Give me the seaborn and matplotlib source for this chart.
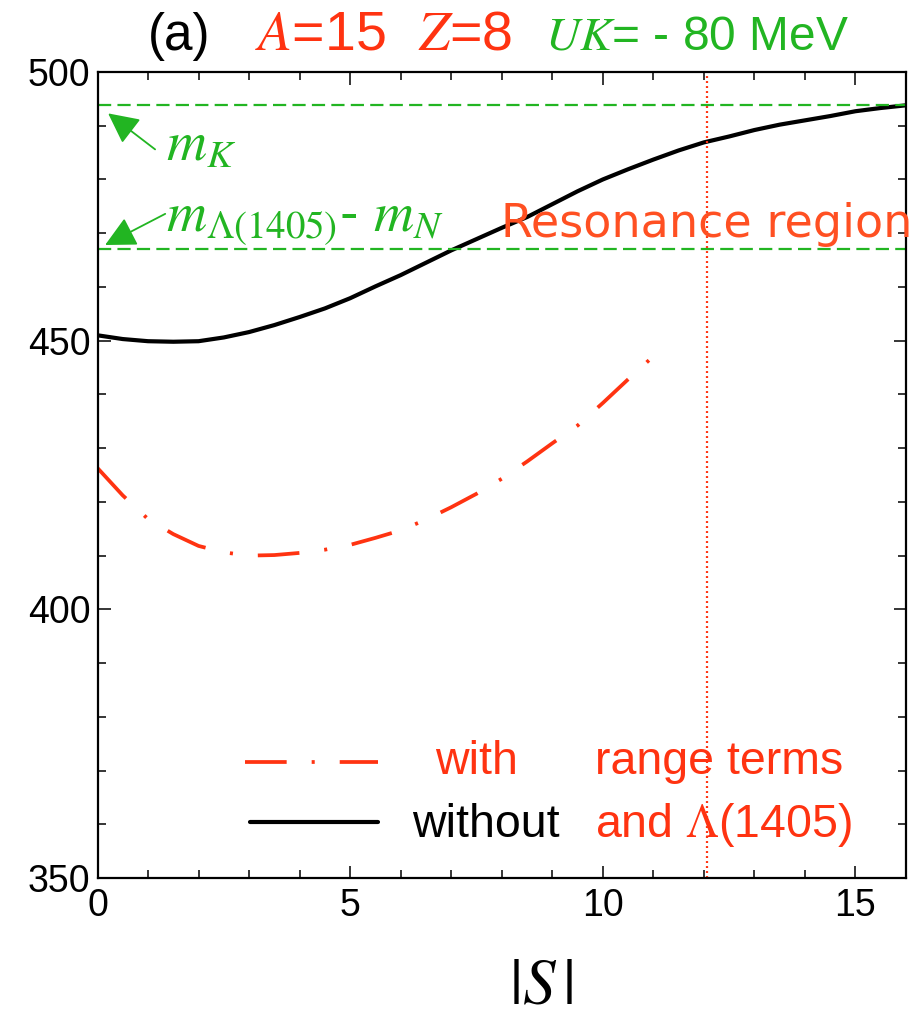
import matplotlib
matplotlib.use("Agg")
import matplotlib.pyplot as plt
import numpy as np
import pandas as pd
import seaborn as sns
from matplotlib.ticker import MultipleLocator

# |S| grid and energies (MeV) for the two calculations
s_with = [0.0, 0.5, 1.0, 1.5, 2.0, 2.5, 3.0, 3.5, 4.0, 4.5, 5.0, 5.5,
          6.0, 6.5, 7.0, 7.5, 8.0, 8.5, 9.0, 9.5, 10.0, 10.5, 11.0]
e_with = [426.3, 421.2, 416.8, 414.0, 411.8, 410.6, 410.0, 410.1, 410.5,
          411.1, 412.0, 413.3, 414.7, 416.7, 419.0, 421.5, 424.3, 427.5,
          430.9, 434.2, 438.4, 442.8, 447.1]

s_without = [0.0, 0.5, 1.0, 1.5, 2.0, 2.5, 3.0, 3.5, 4.0, 4.5, 5.0, 5.5,
             6.0, 6.5, 7.0, 7.5, 8.0, 8.5, 9.0, 9.5, 10.0, 10.5, 11.0,
             11.5, 12.0, 12.5, 13.0, 13.5, 14.0, 14.5, 15.0, 15.5, 16.0]
e_without = [451.0, 450.3, 449.9, 449.8, 449.9, 450.6, 451.6, 452.9, 454.4,
             456.0, 457.9, 460.1, 462.2, 464.5, 466.8, 468.9, 471.0, 473.0,
             475.4, 477.8, 480.0, 481.9, 483.7, 485.4, 486.9, 488.0, 489.2,
             490.2, 491.0, 491.8, 492.7, 493.3, 493.8]

# reference energies and the edge of the resonance region
m_kaon = 493.8
m_lambda1405_minus_n = 467.0
s_resonance_edge = 12.07

x_ticks = [0, 5, 10, 15]
y_ticks = [350, 400, 450, 500]

RED = "#ff3311"
ORANGE = "#ff5022"
GREEN = "#22b522"

sns.set_theme(style="ticks")
plt.rcParams["font.family"] = ["Liberation Sans", "DejaVu Sans"]
plt.rcParams["mathtext.fontset"] = "stix"
plt.rcParams["lines.scale_dashes"] = False
for key in ("text.color", "axes.labelcolor", "xtick.color", "ytick.color",
            "axes.edgecolor", "xtick.labelcolor", "ytick.labelcolor"):
    plt.rcParams[key] = "black"

fig = plt.figure(figsize=(9.21, 10.14), dpi=100)
ax = fig.add_axes([97.5 / 921, 1 - 878 / 1014, 808.5 / 921, 806 / 1014])

df_with = pd.DataFrame({"S": s_with, "E": e_with})
df_without = pd.DataFrame({"S": s_without, "E": e_without})

sns.lineplot(data=df_without, x="S", y="E", ax=ax, color="black", lw=3.0)
sns.lineplot(data=df_with, x="S", y="E", ax=ax, color=RED, lw=2.7)
ax.lines[-1].set_dashes([30, 18, 2.2, 18])

# threshold lines
for level in (m_kaon, m_lambda1405_minus_n):
    ax.axhline(level, color=GREEN, lw=1.6, dashes=[9.5, 4.5])
ax.axvline(s_resonance_edge, color=RED, lw=1.6, dashes=[1.4, 2.2])

ax.set_xlim(0, 16)
ax.set_ylim(350, 500)
ax.set_xticks(x_ticks)
ax.set_yticks(y_ticks)
ax.xaxis.set_minor_locator(MultipleLocator(1))
ax.yaxis.set_minor_locator(MultipleLocator(10))
ax.tick_params(which="both", direction="in", top=True, right=True,
               color="black", width=1.1)
ax.tick_params(which="major", length=9, labelsize=27, labelcolor="black")
ax.tick_params(which="minor", length=5.5)
ax.tick_params(axis="x", which="major", pad=7)
ax.tick_params(axis="y", which="major", pad=5)
for sp in ax.spines.values():
    sp.set_linewidth(1.6)
    sp.set_color("black")
ax.set_xlabel("")
ax.set_ylabel("")

# annotations for the thresholds
arrow_style = dict(arrowstyle="-|>,head_length=0.9,head_width=0.45",
                   color=GREEN, lw=1.3, mutation_scale=21,
                   shrinkA=0, shrinkB=0)
ax.annotate("", xy=(0.21, 492.3), xytext=(1.14, 485.6), arrowprops=arrow_style)
ax.annotate("", xy=(0.15, 467.8), xytext=(1.34, 473.6), arrowprops=arrow_style)
ax.text(1.36, 483.6, r"$m_K$", color=GREEN, fontsize=40, ha="left",
        va="baseline")
ax.text(1.36, 470.3, r"$m_{\Lambda(1405)}$- $m_N$", color=GREEN, fontsize=40,
        ha="left", va="baseline")

ax.text(7.98, 469.35, "Resonance region", color=ORANGE, fontsize=33.2,
        family="DejaVu Sans", ha="left", va="baseline")

# key
ax.plot([0.1824, 0.3472], [0.1439, 0.1439], transform=ax.transAxes,
        color=RED, lw=2.7, dashes=[30, 18, 2.2, 18])
ax.plot([0.1886, 0.3472], [0.0695, 0.0695], transform=ax.transAxes,
        color="black", lw=3.0)
ax.text(0.4174, 0.1439, "with", transform=ax.transAxes, color=RED,
        fontsize=33.5, ha="left", va="center")
ax.text(0.3891, 0.0660, "without", transform=ax.transAxes, color="black",
        fontsize=33.5, ha="left", va="center")
ax.text(0.6153, 0.1439, "range terms", transform=ax.transAxes, color=RED,
        fontsize=33.5, ha="left", va="center")
ax.text(0.6153, 0.0660, r"and $\Lambda$(1405)", transform=ax.transAxes,
        color=RED, fontsize=33.5, ha="left", va="center")

# panel header
fig.text(148 / 921, 1 - 50 / 1014, "(a)", color="black", fontsize=37,
         ha="left", va="baseline")
fig.text(255 / 921, 1 - 50 / 1014, r"$A$=15", color=RED, fontsize=40,
         ha="left", va="baseline")
fig.text(418 / 921, 1 - 50 / 1014, r"$Z$=8", color=RED, fontsize=40,
         ha="left", va="baseline")
fig.text(545 / 921, 1 - 50 / 1014, r"$UK$= - 80 MeV", color=GREEN,
         fontsize=34.5, ha="left", va="baseline")

fig.text(541 / 921, 1 - 986 / 1014, r"$|S\,|$", color="black", fontsize=47,
         ha="center", va="center")

fig.savefig("out.png", dpi=100)
